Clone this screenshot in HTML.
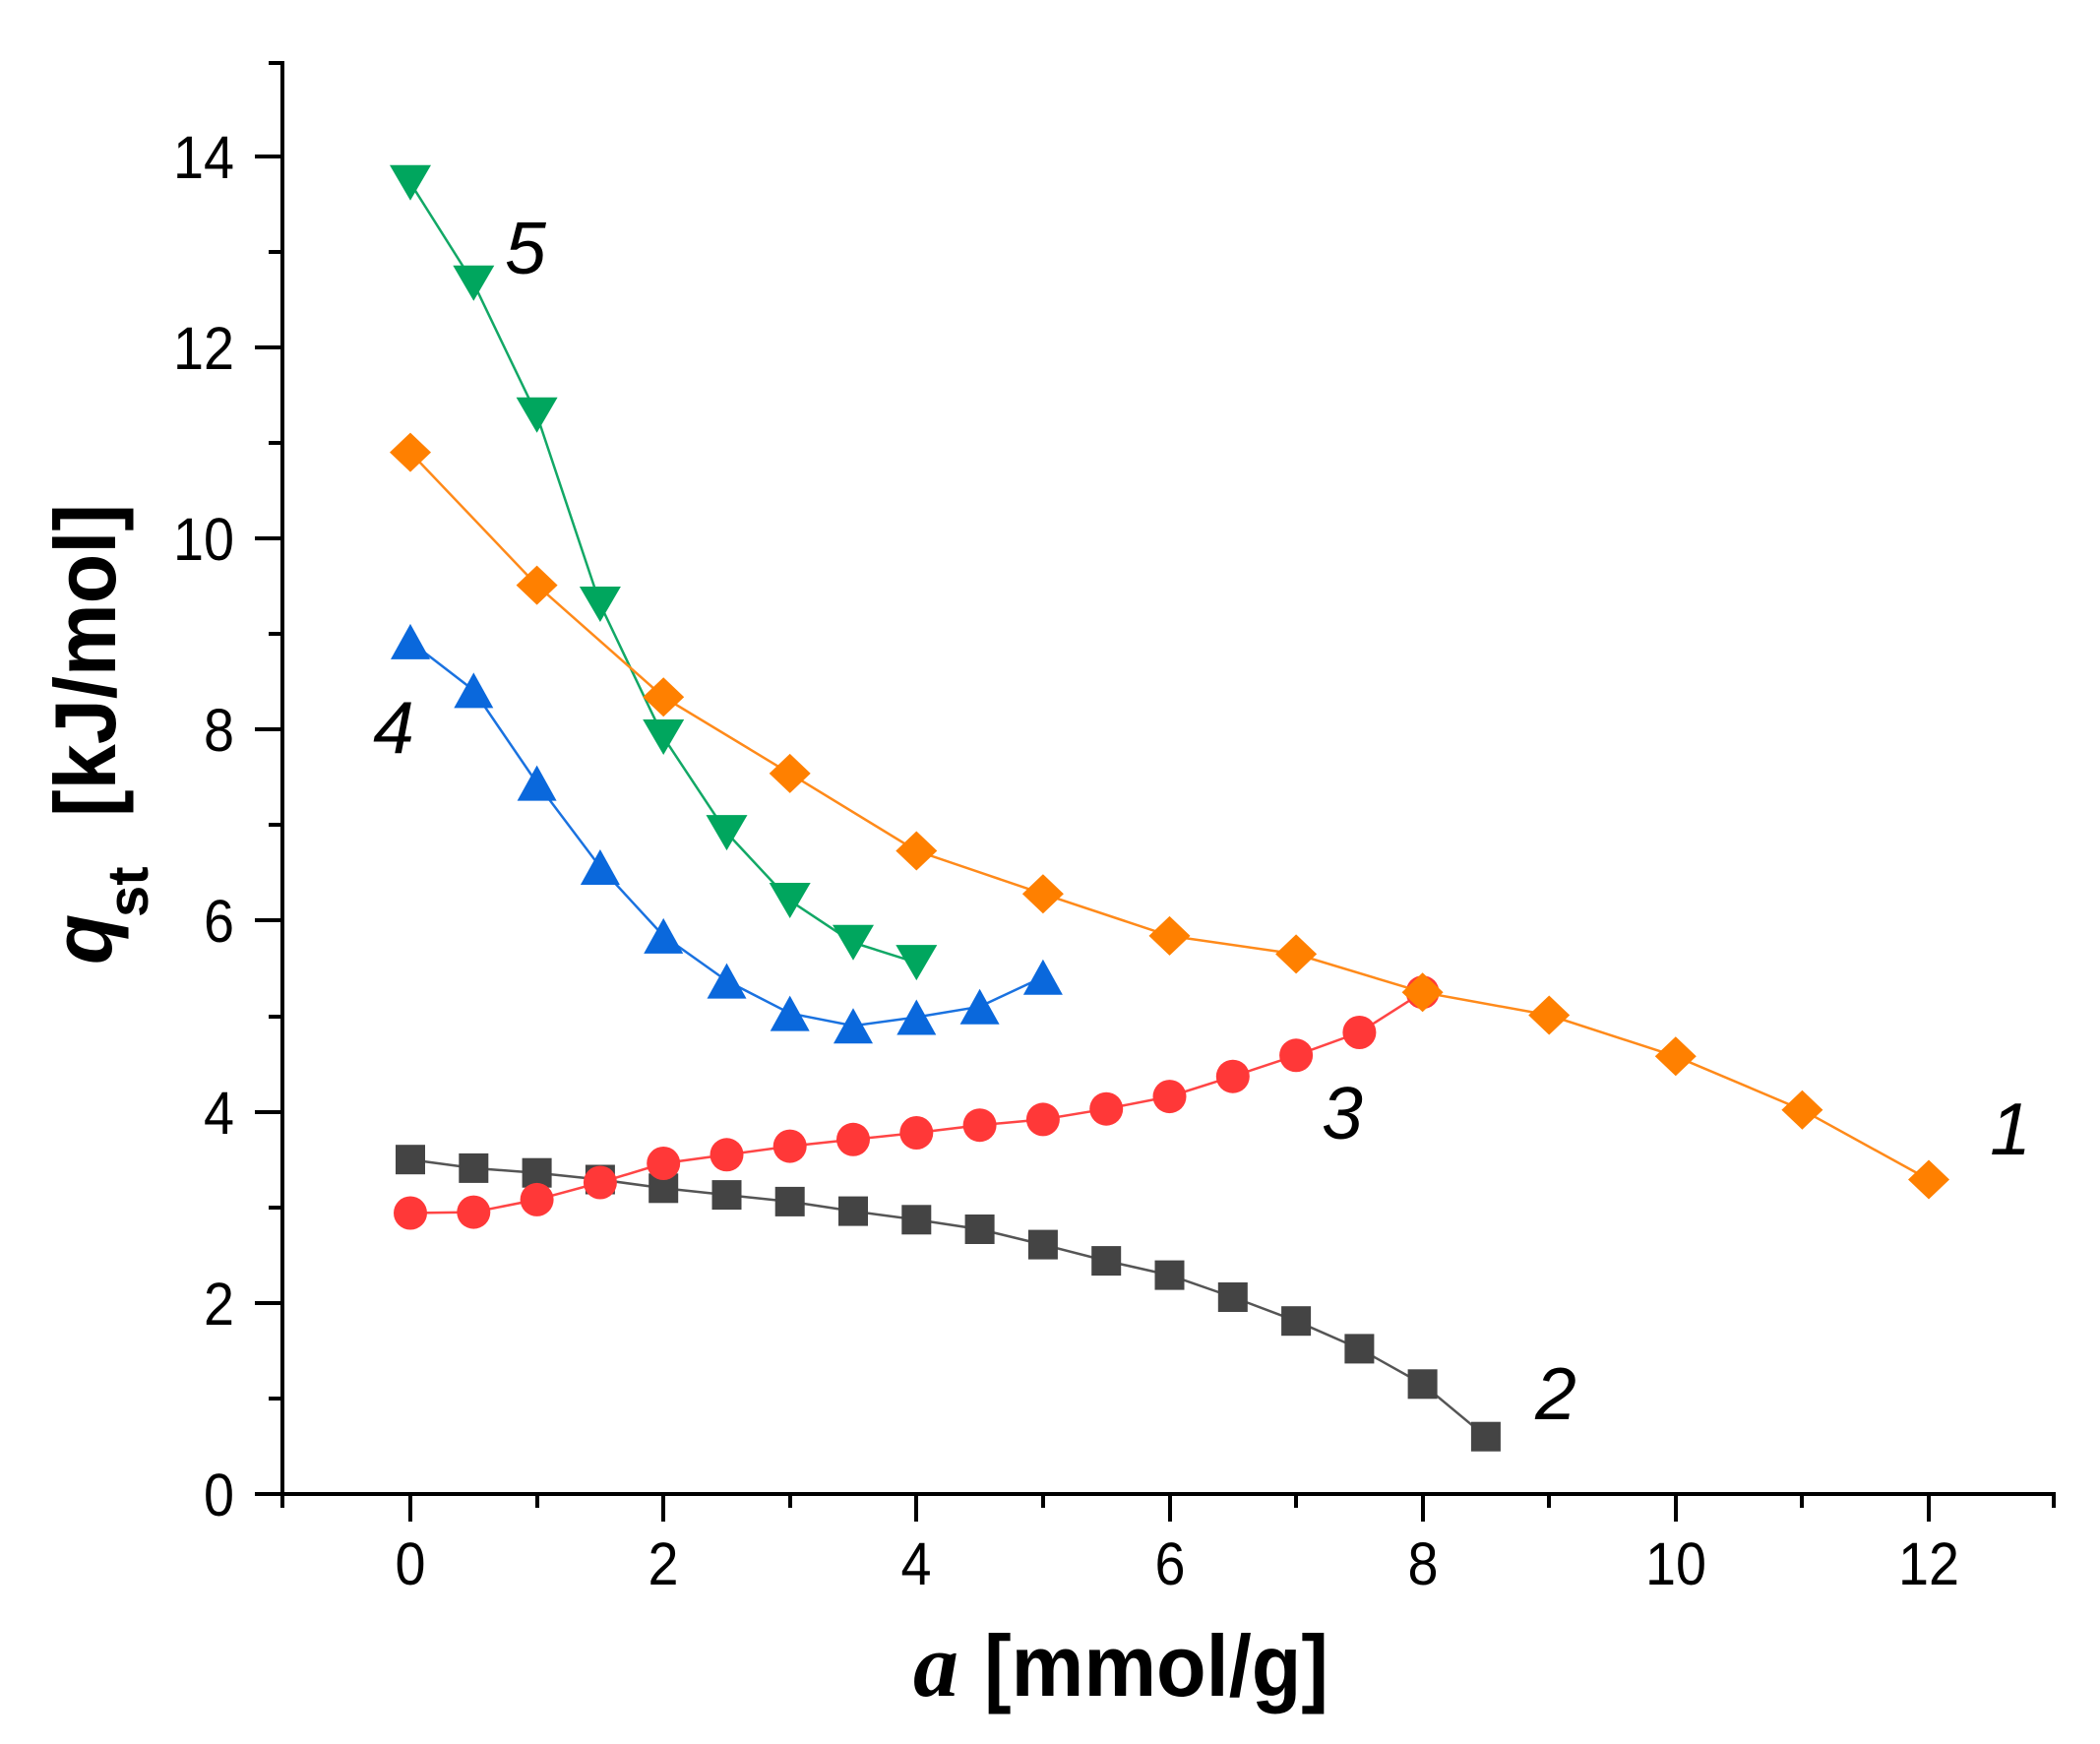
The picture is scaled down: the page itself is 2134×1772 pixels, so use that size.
<!DOCTYPE html>
<html><head><meta charset="utf-8"><style>
html,body{margin:0;padding:0;background:#fff;}
svg{display:block;}
text{font-family:"Liberation Sans",Arial,sans-serif;fill:#000;}
</style></head><body>
<svg width="2134" height="1772" viewBox="0 0 2134 1772" xmlns="http://www.w3.org/2000/svg">
<rect width="2134" height="1772" fill="#fff"/>
<!-- axes -->
<g stroke="#000" stroke-width="4" fill="none">
<line x1="287" y1="62" x2="287" y2="1532"/>
<line x1="259" y1="1518" x2="2089" y2="1518"/>
<!-- y ticks major -->
<line x1="259" y1="159" x2="287" y2="159"/>
<line x1="259" y1="353" x2="287" y2="353"/>
<line x1="259" y1="547" x2="287" y2="547"/>
<line x1="259" y1="741" x2="287" y2="741"/>
<line x1="259" y1="935" x2="287" y2="935"/>
<line x1="259" y1="1130" x2="287" y2="1130"/>
<line x1="259" y1="1324" x2="287" y2="1324"/>
<!-- y ticks minor -->
<line x1="273" y1="64" x2="287" y2="64"/>
<line x1="273" y1="256" x2="287" y2="256"/>
<line x1="273" y1="450" x2="287" y2="450"/>
<line x1="273" y1="644" x2="287" y2="644"/>
<line x1="273" y1="838" x2="287" y2="838"/>
<line x1="273" y1="1033" x2="287" y2="1033"/>
<line x1="273" y1="1227" x2="287" y2="1227"/>
<line x1="273" y1="1421" x2="287" y2="1421"/>
<!-- x ticks major -->
<line x1="417" y1="1518" x2="417" y2="1546"/>
<line x1="674" y1="1518" x2="674" y2="1546"/>
<line x1="931" y1="1518" x2="931" y2="1546"/>
<line x1="1189" y1="1518" x2="1189" y2="1546"/>
<line x1="1446" y1="1518" x2="1446" y2="1546"/>
<line x1="1703" y1="1518" x2="1703" y2="1546"/>
<line x1="1960" y1="1518" x2="1960" y2="1546"/>
<!-- x ticks minor -->
<line x1="546" y1="1518" x2="546" y2="1532"/>
<line x1="803" y1="1518" x2="803" y2="1532"/>
<line x1="1060" y1="1518" x2="1060" y2="1532"/>
<line x1="1317" y1="1518" x2="1317" y2="1532"/>
<line x1="1574" y1="1518" x2="1574" y2="1532"/>
<line x1="1831" y1="1518" x2="1831" y2="1532"/>
<line x1="2087" y1="1518" x2="2087" y2="1532"/>
</g>
<!-- y tick labels -->
<g font-size="61" text-anchor="end" lengthAdjust="spacingAndGlyphs">
<text x="238" y="181" textLength="62" lengthAdjust="spacingAndGlyphs">14</text>
<text x="238" y="375" textLength="62" lengthAdjust="spacingAndGlyphs">12</text>
<text x="238" y="569" textLength="62" lengthAdjust="spacingAndGlyphs">10</text>
<text x="238" y="763" textLength="31" lengthAdjust="spacingAndGlyphs">8</text>
<text x="238" y="957" textLength="31" lengthAdjust="spacingAndGlyphs">6</text>
<text x="238" y="1152" textLength="31" lengthAdjust="spacingAndGlyphs">4</text>
<text x="238" y="1346" textLength="31" lengthAdjust="spacingAndGlyphs">2</text>
<text x="238" y="1540" textLength="31" lengthAdjust="spacingAndGlyphs">0</text>
</g>
<!-- x tick labels -->
<g font-size="61" text-anchor="middle">
<text x="417" y="1610" textLength="31" lengthAdjust="spacingAndGlyphs">0</text>
<text x="674" y="1610" textLength="31" lengthAdjust="spacingAndGlyphs">2</text>
<text x="931" y="1610" textLength="31" lengthAdjust="spacingAndGlyphs">4</text>
<text x="1189" y="1610" textLength="31" lengthAdjust="spacingAndGlyphs">6</text>
<text x="1446" y="1610" textLength="31" lengthAdjust="spacingAndGlyphs">8</text>
<text x="1703" y="1610" textLength="62" lengthAdjust="spacingAndGlyphs">10</text>
<text x="1960" y="1610" textLength="62" lengthAdjust="spacingAndGlyphs">12</text>
</g>
<!-- axis titles -->
<text x="928" y="1723" font-style="italic" font-weight="bold" font-size="92" style="font-family:'Liberation Serif',serif">a</text>
<text x="1000" y="1723" font-weight="bold" font-size="88" textLength="350" lengthAdjust="spacingAndGlyphs">[mmol/g]</text>
<text transform="translate(117,830) rotate(-90)" font-weight="bold" font-size="88" textLength="318" lengthAdjust="spacingAndGlyphs">[kJ/mol]</text>
<text transform="translate(113,980) rotate(-90)" font-weight="bold" font-style="italic" font-size="84">q</text>
<text transform="translate(150,932) rotate(-90)" font-weight="bold" font-size="58">st</text>

<!-- series 2: gray squares -->
<polyline fill="none" stroke="#555" stroke-width="2.5" points="417,1178.2 481.3,1186.9 545.6,1191.7 609.9,1198.5 674.2,1207.3 738.5,1214.1 802.7,1220.9 867,1230.6 931.3,1239.3 995.6,1249 1059.9,1264.6 1124.2,1281.1 1188.5,1295.6 1252.8,1318 1317.1,1342.2 1381.4,1370.4 1445.6,1406.3 1509.9,1459.7"/>
<g fill="#444">
<rect x="402" y="1163.2" width="30" height="30"/>
<rect x="466.3" y="1171.9" width="30" height="30"/>
<rect x="530.6" y="1176.7" width="30" height="30"/>
<rect x="594.9" y="1183.5" width="30" height="30"/>
<rect x="659.2" y="1192.3" width="30" height="30"/>
<rect x="723.5" y="1199.1" width="30" height="30"/>
<rect x="787.7" y="1205.9" width="30" height="30"/>
<rect x="852" y="1215.6" width="30" height="30"/>
<rect x="916.3" y="1224.3" width="30" height="30"/>
<rect x="980.6" y="1234" width="30" height="30"/>
<rect x="1044.9" y="1249.6" width="30" height="30"/>
<rect x="1109.2" y="1266.1" width="30" height="30"/>
<rect x="1173.5" y="1280.6" width="30" height="30"/>
<rect x="1237.8" y="1303" width="30" height="30"/>
<rect x="1302.1" y="1327.2" width="30" height="30"/>
<rect x="1366.4" y="1355.4" width="30" height="30"/>
<rect x="1430.6" y="1391.3" width="30" height="30"/>
<rect x="1494.9" y="1444.7" width="30" height="30"/>
</g>

<!-- series 3: red circles -->
<polyline fill="none" stroke="#FF4545" stroke-width="2.5" points="417,1232.5 481.3,1231.6 545.6,1218.9 609.9,1201.5 674.2,1182 738.5,1173.3 802.7,1164.6 867,1157.8 931.3,1151 995.6,1143.2 1059.9,1137.4 1124.2,1126.7 1188.5,1114.1 1252.8,1093.7 1317.1,1072.3 1381.4,1049 1445.6,1008.2"/>
<g fill="#FF3838">
<circle cx="417" cy="1232.5" r="17"/>
<circle cx="481.3" cy="1231.6" r="17"/>
<circle cx="545.6" cy="1218.9" r="17"/>
<circle cx="609.9" cy="1201.5" r="17"/>
<circle cx="674.2" cy="1182" r="17"/>
<circle cx="738.5" cy="1173.3" r="17"/>
<circle cx="802.7" cy="1164.6" r="17"/>
<circle cx="867" cy="1157.8" r="17"/>
<circle cx="931.3" cy="1151" r="17"/>
<circle cx="995.6" cy="1143.2" r="17"/>
<circle cx="1059.9" cy="1137.4" r="17"/>
<circle cx="1124.2" cy="1126.7" r="17"/>
<circle cx="1188.5" cy="1114.1" r="17"/>
<circle cx="1252.8" cy="1093.7" r="17"/>
<circle cx="1317.1" cy="1072.3" r="17"/>
<circle cx="1381.4" cy="1049" r="17"/>
<circle cx="1445.6" cy="1008.2" r="17"/>
</g>

<!-- series 4: blue up triangles -->
<polyline fill="none" stroke="#1A72E0" stroke-width="2.5" points="417,651.9 481.3,701.4 545.6,795.6 609.9,881 674.2,950.9 738.5,996.6 802.7,1029.6 867,1042.2 931.3,1033.5 995.6,1022.8 1059.9,992.7"/>
<g fill="#0A68DC">
<polygon points="397,669.9 437,669.9 417,633.9"/>
<polygon points="461.3,719.4 501.3,719.4 481.3,683.4"/>
<polygon points="525.6,813.6 565.6,813.6 545.6,777.6"/>
<polygon points="589.9,899 629.9,899 609.9,863"/>
<polygon points="654.2,968.9 694.2,968.9 674.2,932.9"/>
<polygon points="718.5,1014.6 758.5,1014.6 738.5,978.6"/>
<polygon points="782.7,1047.6 822.7,1047.6 802.7,1011.6"/>
<polygon points="847,1060.2 887,1060.2 867,1024.2"/>
<polygon points="911.3,1051.5 951.3,1051.5 931.3,1015.5"/>
<polygon points="975.6,1040.8 1015.6,1040.8 995.6,1004.8"/>
<polygon points="1039.9,1010.7 1079.9,1010.7 1059.9,974.7"/>
</g>

<!-- series 5: green down triangles -->
<polyline fill="none" stroke="#12A866" stroke-width="2.5" points="417,185.8 481.3,287.7 545.6,421.7 609.9,614 674.2,749 738.5,846.1 802.7,915 867,957.7 931.3,978.1"/>
<g fill="#00A65E">
<polygon points="396,167.8 438,167.8 417,203.8"/>
<polygon points="460.3,269.7 502.3,269.7 481.3,305.7"/>
<polygon points="524.6,403.7 566.6,403.7 545.6,439.7"/>
<polygon points="588.9,596 630.9,596 609.9,632"/>
<polygon points="653.2,731 695.2,731 674.2,767"/>
<polygon points="717.5,828.1 759.5,828.1 738.5,864.1"/>
<polygon points="781.7,897 823.7,897 802.7,933"/>
<polygon points="846,939.7 888,939.7 867,975.7"/>
<polygon points="910.3,960.1 952.3,960.1 931.3,996.1"/>
</g>

<!-- series 1: orange diamonds -->
<polyline fill="none" stroke="#FF8A1A" stroke-width="2.5" points="417,459.6 545.6,594.6 674.2,708.2 802.7,785.9 931.3,864.5 1059.9,908.2 1188.5,950.9 1317.1,969.4 1445.6,1008.2 1574.2,1031.5 1702.8,1073.3 1831.4,1127.7 1960,1198.5"/>
<g fill="#FF8000">
<polygon points="417,439.6 438,459.6 417,479.6 396,459.6"/>
<polygon points="545.6,574.6 566.6,594.6 545.6,614.6 524.6,594.6"/>
<polygon points="674.2,688.2 695.2,708.2 674.2,728.2 653.2,708.2"/>
<polygon points="802.7,765.9 823.7,785.9 802.7,805.9 781.7,785.9"/>
<polygon points="931.3,844.5 952.3,864.5 931.3,884.5 910.3,864.5"/>
<polygon points="1059.9,888.2 1080.9,908.2 1059.9,928.2 1038.9,908.2"/>
<polygon points="1188.5,930.9 1209.5,950.9 1188.5,970.9 1167.5,950.9"/>
<polygon points="1317.1,949.4 1338.1,969.4 1317.1,989.4 1296.1,969.4"/>
<polygon points="1445.6,988.2 1466.6,1008.2 1445.6,1028.2 1424.6,1008.2"/>
<polygon points="1574.2,1011.5 1595.2,1031.5 1574.2,1051.5 1553.2,1031.5"/>
<polygon points="1702.8,1053.3 1723.8,1073.3 1702.8,1093.3 1681.8,1073.3"/>
<polygon points="1831.4,1107.7 1852.4,1127.7 1831.4,1147.7 1810.4,1127.7"/>
<polygon points="1960,1178.5 1981,1198.5 1960,1218.5 1939,1198.5"/>
</g>

<!-- curve labels -->
<g font-size="75" font-style="italic" text-anchor="middle">
<text x="534" y="278">5</text>
<text x="400" y="765">4</text>
<text x="1364" y="1157">3</text>
<text x="2043" y="1173">1</text>
<text x="1581" y="1442">2</text>
</g>
</svg>
</body></html>
